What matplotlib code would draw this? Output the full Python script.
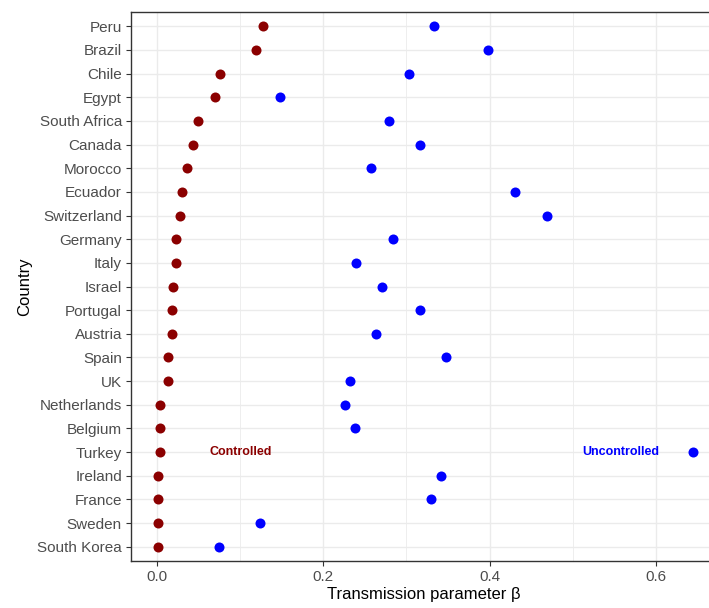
import matplotlib
matplotlib.use("Agg")
import matplotlib.pyplot as plt
from matplotlib.ticker import MultipleLocator

plt.rcParams['font.family'] = ['Liberation Sans', 'DejaVu Sans']

countries = ["Peru", "Brazil", "Chile", "Egypt", "South Africa", "Canada", "Morocco",
             "Ecuador", "Switzerland", "Germany", "Italy", "Israel", "Portugal", "Austria",
             "Spain", "UK", "Netherlands", "Belgium", "Turkey", "Ireland", "France",
             "Sweden", "South Korea"]
controlled = [0.128, 0.119, 0.076, 0.070, 0.049, 0.043, 0.036, 0.030, 0.028, 0.023,
              0.023, 0.020, 0.018, 0.018, 0.013, 0.013, 0.004, 0.004, 0.004, 0.002,
              0.002, 0.002, 0.001]
uncontrolled = [0.333, 0.398, 0.303, 0.148, 0.279, 0.316, 0.257, 0.430, 0.469, 0.284,
                0.239, 0.270, 0.316, 0.263, 0.348, 0.232, 0.226, 0.238, 0.644, 0.342,
                0.330, 0.124, 0.075]
xticks = [0.0, 0.2, 0.4, 0.6]
xticklabels = ["0.0", "0.2", "0.4", "0.6"]

fig = plt.figure(figsize=(7.09, 6.08), dpi=100)
ax = fig.add_axes([131/709, 47/608, (709-131)/709 + 0.01, (561-12)/608])

n = len(countries)
ypos = [n - 1 - i for i in range(n)]

ax.scatter(controlled, ypos, s=52, color="#8B0000", zorder=3, linewidths=0)
ax.scatter(uncontrolled, ypos, s=52, color="#0000FF", zorder=3, linewidths=0)

ax.set_xlim(-0.031, 0.672)
ax.set_ylim(-0.6, n - 1 + 0.6)
ax.set_yticks(ypos)
ax.set_yticklabels(countries)
ax.set_xticks(xticks)
ax.set_xticklabels(xticklabels)
ax.xaxis.set_minor_locator(MultipleLocator(0.1))

ax.grid(True, which="major", color="#EBEBEB", linewidth=1.0, zorder=0)
ax.grid(True, which="minor", axis="x", color="#EBEBEB", linewidth=0.6, zorder=0)
ax.set_axisbelow(True)
ax.tick_params(axis="both", which="major", labelsize=11, labelcolor="#4D4D4D",
               color="#333333", length=3.5, width=0.8, pad=3)
ax.tick_params(axis="x", which="minor", length=0)
for sp in ax.spines.values():
    sp.set_color("#333333")
    sp.set_linewidth(1.0)

ax.set_xlabel("Transmission parameter β", fontsize=12, color="black", labelpad=2)
ax.set_ylabel("Country", fontsize=12, color="black", labelpad=4)

turkey_y = ypos[countries.index("Turkey")]
ax.text(0.101, turkey_y, "Controlled", color="#8B0000", fontsize=9, fontweight="bold",
        ha="center", va="center")
ax.text(0.557, turkey_y, "Uncontrolled", color="#0000FF", fontsize=9, fontweight="bold",
        ha="center", va="center")

fig.savefig("out.png", dpi=100)
